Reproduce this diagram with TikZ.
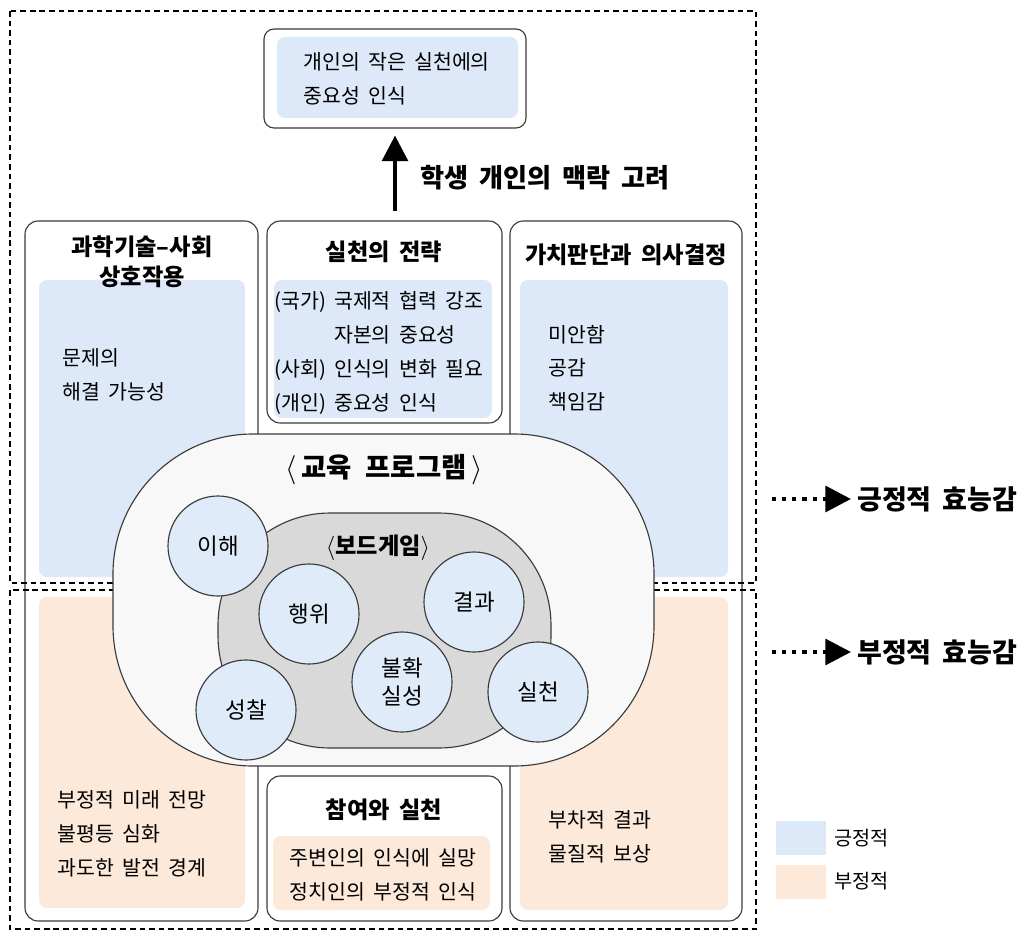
\documentclass[tikz,border=0pt]{standalone}
\usepackage{fontspec}
\setmainfont{Noto Sans CJK KR}[WordSpace=1.8]
\usetikzlibrary{arrows.meta,positioning,fit}
\definecolor{EfficacyBlue}{HTML}{DDE8F8}
\definecolor{EfficacyPeach}{HTML}{FCE9DA}
\definecolor{FactorBlue}{HTML}{DFEBF8}
\definecolor{ProgramWhite}{HTML}{F8F8F8}
\definecolor{GameGray}{HTML}{D9D9D9}
\definecolor{FrameInk}{HTML}{3A3A3A}
\tikzset{
  panel/.style={draw=FrameInk, line width=0.8pt, rounded corners=3.3mm, fill=white, inner sep=0pt},
  subpanel/.style={panel, rounded corners=2.5mm},
  posarea/.style={fill=EfficacyBlue, rounded corners=2mm, inner sep=0pt},
  negarea/.style={fill=EfficacyPeach, rounded corners=2mm, inner sep=0pt},
  region/.style={draw=black, line width=1.4pt, dash pattern=on 4pt off 2.8pt},
  program/.style={draw=FrameInk, line width=0.8pt, fill=ProgramWhite, rounded corners=3.5cm, inner sep=0pt},
  boardgame/.style={draw=FrameInk, line width=0.8pt, fill=GameGray, rounded corners=2.8cm, inner sep=0pt},
  factor/.style={circle, draw=FrameInk, line width=0.8pt, fill=FactorBlue, minimum size=2.5cm,
    inner sep=0pt, align=center, font=\fontsize{16}{20}\selectfont},
  paneltitle/.style={font=\bfseries\fontsize{16.5}{21}\selectfont, align=center, inner sep=0pt},
  itemtext/.style={font=\fontsize{14.6}{24}\selectfont, align=left, inner sep=0pt},
  bigtitle/.style={font=\bfseries\fontsize{18.6}{22}\selectfont, inner sep=0pt},
  contextarrow/.style={-{Triangle[length=6.4mm, width=6.4mm]}, line width=3pt},
  effectarrow/.style={-{Triangle[length=6.4mm, width=6.4mm]}, line width=3pt, dash pattern=on 3pt off 4.2pt},
  effectlabel/.style={font=\bfseries\fontsize{19.2}{22}\selectfont, inner sep=0pt},
  swatch/.style={minimum width=1.25cm, minimum height=0.85cm, inner sep=0pt},
  legendtext/.style={font=\fontsize{14}{16}\selectfont, inner sep=0pt}
}
\begin{document}
\begin{tikzpicture}[x=0.025cm, y=-0.025cm]
  \useasboundingbox (0,0) rectangle (1024,932);
  % panels
  \node[subpanel, fit={(264,29) (526,128)}] (practicebox) {};
  \node[panel, fit={(25,221) (258,921)}] (stsbox) {};
  \node[panel, fit={(267,221) (502,423)}] (strategybox) {};
  \node[panel, fit={(510,221) (742,921)}] (valuebox) {};
  \node[panel, fit={(267,776) (502,921)}] (participationbox) {};
  % fills
  \node[posarea, fit={(277,37) (518,118)}] (practicefill) {};
  \node[posarea, fit={(39,280) (245,577)}] (stspos) {};
  \node[negarea, fit={(39,597) (245,908)}] (stsneg) {};
  \node[posarea, fit={(274,280) (492,418)}] (strategyfill) {};
  \node[posarea, fit={(520,280) (728,577)}] (valuepos) {};
  \node[negarea, fit={(520,597) (728,910)}] (valueneg) {};
  \node[negarea, fit={(273,836) (490,910)}] (participationfill) {};
  % positive / negative regions
  \draw[region] (10,11) rectangle (756,583);
  \draw[region] (10,590) rectangle (756,929);
  % program and board game
  \node[program, fit={(113,434) (654,766)}] (program) {};
  \node[boardgame, fit={(218,513) (551,748)}] (boardgame) {};
  \node[bigtitle, font=\bfseries\fontsize{19.5}{22}\selectfont] (programtitle) at (384,470)
    {$\langle$\,교육\enspace 프로그램\,$\rangle$};
  \node[bigtitle, font=\bfseries\fontsize{16.5}{20}\selectfont] (gametitle) at (378,548) {$\langle$보드게임$\rangle$};
  \node[factor] (understanding) at (218,546) {이해};
  \node[factor] (action) at (309,614) {행위};
  \node[factor] (result) at (474,602) {결과};
  \node[factor] (uncertainty) at (402,682) {불확\\실성};
  \node[factor] (reflection) at (246,710) {성찰};
  \node[factor] (enactment) at (538,692) {실천};
  % texts
  \node[itemtext, anchor=west] (practicetext) at (303,79) {개인의 작은 실천에의\\중요성 인식};
  \node[paneltitle] (ststitle) at (142,262) {과학기술–사회\\상호작용};
  \node[itemtext, anchor=west] (ststext) at (62,375) {문제의\\해결 가능성};
  \node[itemtext, anchor=west] (stsnegtext) at (57,834) {부정적 미래 전망\\불평등 심화\\과도한 발전 경계};
  \node[paneltitle] (strategytitle) at (384,252) {실천의 전략};
  \node[itemtext, anchor=west] (strategytext) at (274,353)
    {(국가) 국제적 협력 강조\\\phantom{(국가)} 자본의 중요성\\(사회) 인식의 변화 필요\\(개인) 중요성 인식};
  \node[paneltitle] (valuetitle) at (626,255) {가치판단과 의사결정};
  \node[itemtext, anchor=west] (valuetext) at (548,368) {미안함\\공감\\책임감};
  \node[itemtext, anchor=west] (valuenegtext) at (548,837) {부차적 결과\\물질적 보상};
  \node[paneltitle] (participationtitle) at (384,810) {참여와 실천};
  \node[itemtext, align=center] (participationtext) at (383,875) {주변인의 인식에 실망\\정치인의 부정적 인식};
  % context arrow
  \draw[contextarrow, shorten <=2.25mm, shorten >=1.75mm]
    (strategybox.north -| practicebox.south) -- (practicebox.south);
  \node[bigtitle, anchor=west] (contextlabel) at (420,178) {학생 개인의 맥락 고려};
  % efficacy arrows
  \coordinate (posstart) at (772,499);
  \coordinate (negstart) at (772,652);
  \node[effectlabel, anchor=west] (poseffect) at (857,499) {긍정적 효능감};
  \node[effectlabel, anchor=west] (negeffect) at (857,652) {부정적 효능감};
  \draw[effectarrow, shorten >=1.5mm] (posstart) -- (poseffect.west);
  \draw[effectarrow, shorten >=1.5mm] (negstart) -- (negeffect.west);
  % legend
  \node[swatch, fill=EfficacyBlue] (posswatch) at (801,838) {};
  \node[swatch, fill=EfficacyPeach] (negswatch) at (801,881.5) {};
  \node[legendtext, right=2mm of posswatch] (poslegend) {긍정적};
  \node[legendtext, right=2mm of negswatch] (neglegend) {부정적};
\end{tikzpicture}
\end{document}
